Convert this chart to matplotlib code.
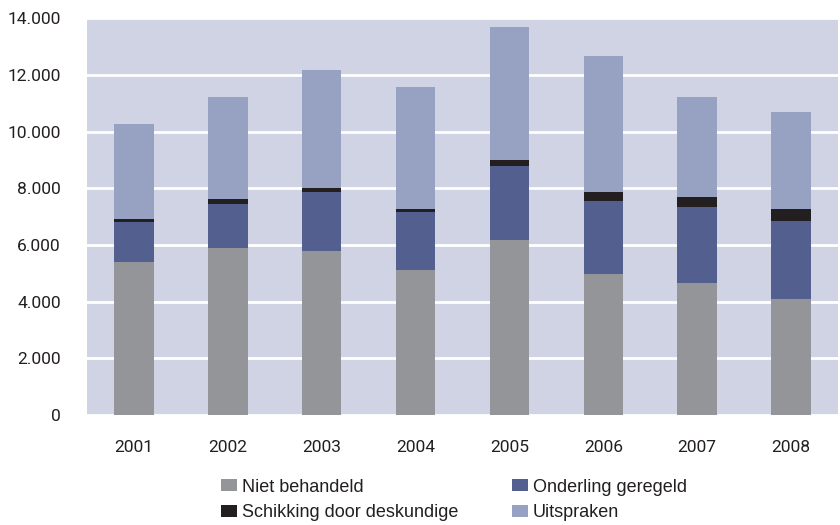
import matplotlib.pyplot as plt
import numpy as np
from matplotlib.patches import Patch
from matplotlib.ticker import FuncFormatter

plt.rcParams['font.family'] = ['Liberation Sans', 'DejaVu Sans']

# jaren en aantallen per categorie
years = ['2001', '2002', '2003', '2004', '2005', '2006', '2007', '2008']
niet_behandeld = [5400, 5890, 5790, 5120, 6175, 4975, 4660, 4095]
onderling = [1420, 1565, 2080, 2045, 2610, 2575, 2680, 2750]
schikking = [95, 165, 140, 105, 210, 320, 355, 425]
uitspraken = [3350, 3600, 4165, 4305, 4695, 4800, 3530, 3425]

series = [
    ('Niet behandeld', niet_behandeld, '#949599'),
    ('Onderling geregeld', onderling, '#525f8f'),
    ('Schikking door deskundige', schikking, '#231f20'),
    ('Uitspraken', uitspraken, '#97a1c1'),
]

fig = plt.figure(figsize=(8.4, 5.25), dpi=100)
ax = fig.add_axes([0.1036, 0.2095, 0.894, 0.7557])
ax.set_facecolor('#d0d3e4')

x = np.arange(len(years))
bottom = np.zeros(len(years))
handles = {}
for name, vals, col in series:
    ax.bar(x, vals, 0.42, bottom=bottom, color=col, zorder=3)
    bottom += np.array(vals)
    handles[name] = Patch(facecolor=col)

ax.set_xlim(-0.5, 7.5)
ax.set_ylim(0, 14000)
ax.set_yticks(range(0, 14001, 2000))
ax.yaxis.set_major_formatter(FuncFormatter(lambda v, p: f'{int(v):,}'.replace(',', '.')))
ax.set_xticks(x)
ax.set_xticklabels(years)
ax.grid(axis='y', color='white', linewidth=2, zorder=1)
ax.set_axisbelow(True)
for s in ax.spines.values():
    s.set_visible(False)
ax.tick_params(length=0, labelsize=12.5, colors='#231f20')
ax.tick_params(axis='y', pad=19)
ax.tick_params(axis='x', pad=18)
for lab in ax.get_xticklabels() + ax.get_yticklabels():
    lab.set_family(['Roboto', 'DejaVu Sans'])

order = ['Niet behandeld', 'Schikking door deskundige', 'Onderling geregeld', 'Uitspraken']
fig.legend([handles[n] for n in order], order, ncol=2, frameon=False,
           loc='center left', bbox_to_anchor=(0.263, 0.0476),
           fontsize=13, handlelength=0.9, handleheight=0.67, handletextpad=0.25,
           columnspacing=3.0, labelspacing=0.48, borderpad=0, borderaxespad=0,
           labelcolor='#231f20')

fig.savefig('out.png', dpi=100)
